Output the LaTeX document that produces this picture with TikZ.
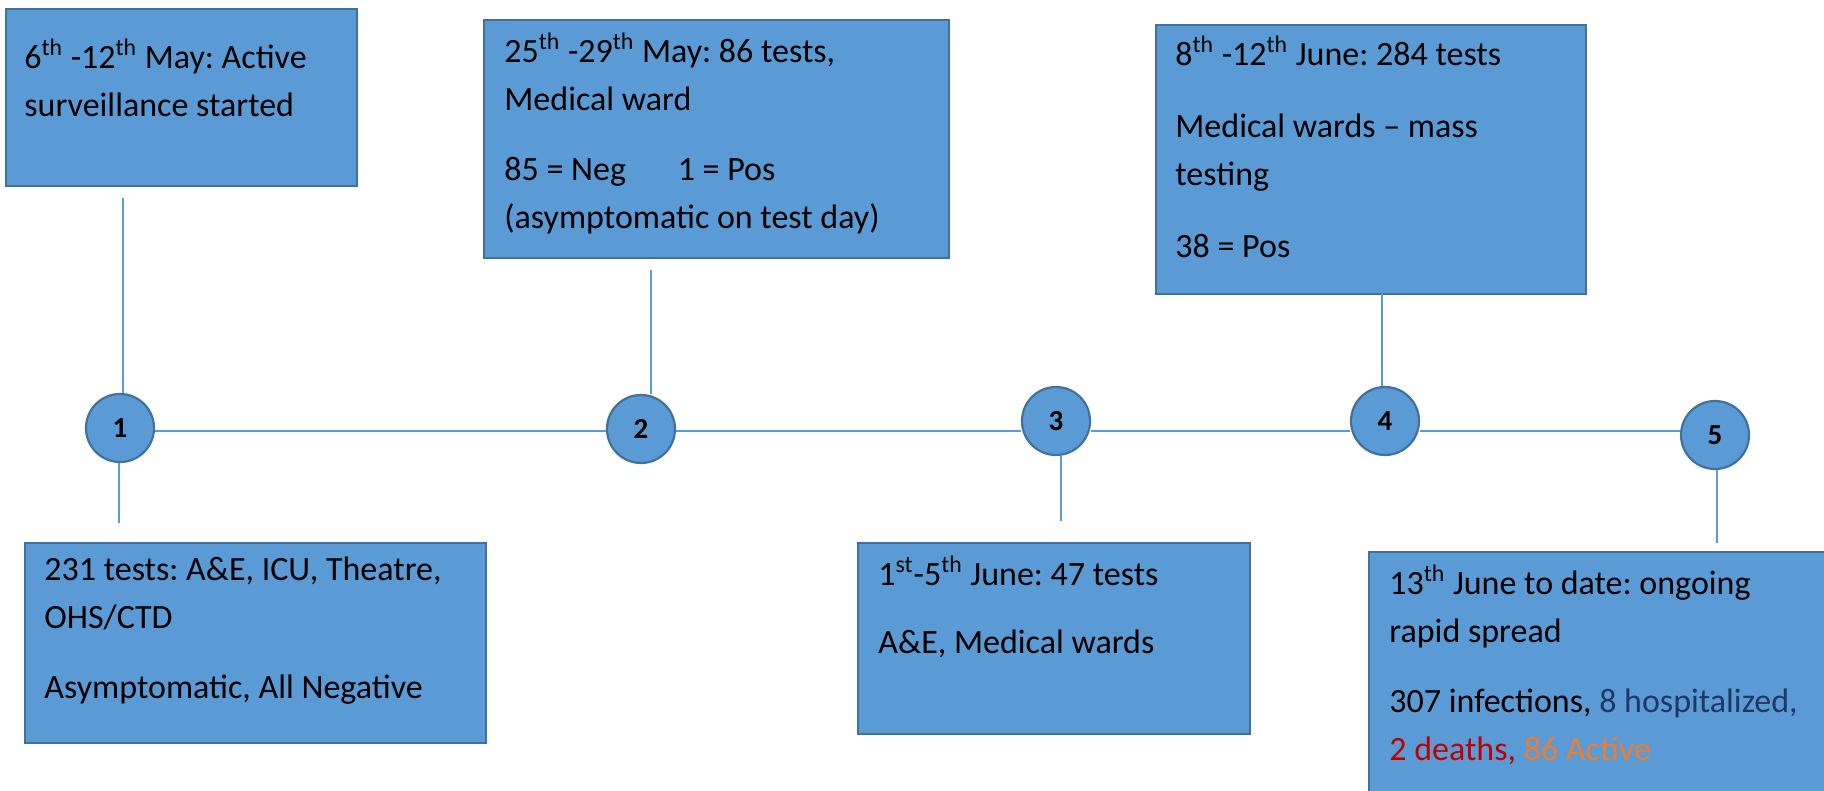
\documentclass[tikz,border=0pt]{standalone}
\usepackage{fontspec}
\setmainfont{Carlito}
\usetikzlibrary{calc}
\definecolor{azulcaja}{HTML}{5B9BD5}
\definecolor{bordecaja}{HTML}{41719C}
\definecolor{azulosc}{HTML}{1F3864}
\definecolor{rojo}{HTML}{C00000}
\definecolor{naranja}{HTML}{ED7D31}

\begin{document}
\begin{tikzpicture}[x=0.5pt,y=-0.5pt,
  caja/.style={draw=bordecaja,fill=azulcaja,line width=1pt,inner sep=0pt,anchor=north west},
  hito/.style={circle,draw=bordecaja,fill=azulcaja,line width=1.1pt,minimum size=34pt,inner sep=0pt,
    font=\fontsize{14.5}{14.5}\selectfont\bfseries},
  texto/.style={anchor=north west,align=left,inner sep=0pt,
    font=\fontsize{17}{24}\selectfont\frenchspacing,
    execute at begin node=\rule{0pt}{17pt}},
  enlace/.style={draw=azulcaja,line width=0.7pt}]
  \useasboundingbox (0,0) rectangle (1824,791);
  \clip (0,0) rectangle (1824,791);
  % cajas de arriba
  \node[caja,minimum width=175.5pt,minimum height=88.5pt] (surv) at (5,8) {};
  \node[caja,minimum width=232.5pt,minimum height=119pt] (may25) at (483,19) {};
  \node[caja,minimum width=215pt,minimum height=134.5pt] (jun8) at (1155,24) {};
  % cajas de abajo
  \node[caja,minimum width=230.5pt,minimum height=100pt] (tests) at (24,542) {};
  \node[caja,minimum width=196pt,minimum height=95.5pt] (jun1) at (857,542) {};
  \node[caja,minimum width=235pt,minimum height=130pt] (jun13) at (1368,551) {};
  % textos
  \node[texto] at ([shift={(19,31)}]surv.north west)
    {6\textsuperscript{th} -12\textsuperscript{th} May: Active\\surveillance started};
  \node[texto] at ([shift={(21,14)}]may25.north west)
    {25\textsuperscript{th} -29\textsuperscript{th} May: 86 tests,\\Medical ward\\[11pt]
     85 = Neg\hspace{22pt} 1 = Pos\\(asymptomatic on test day)};
  \node[texto] at ([shift={(20,12)}]jun8.north west)
    {8\textsuperscript{th} -12\textsuperscript{th} June: 284 tests\\[12pt]
     Medical wards -- mass\\testing\\[12pt]38 = Pos};
  \node[texto] at ([shift={(20,14)}]tests.north west)
    {231 tests: A\&E, ICU, Theatre,\\OHS/CTD\\[11pt]Asymptomatic, All Negative};
  \node[texto] at ([shift={(21,14)}]jun1.north west)
    {1\textsuperscript{st}-5\textsuperscript{th} June: 47 tests\\[10pt]A\&E, Medical wards};
  \node[texto] at ([shift={(21,14)}]jun13.north west)
    {13\textsuperscript{th} June to date: ongoing\\rapid spread\\[11pt]
     307 infections, \textcolor{azulosc}{8 hospitalized,}\\
     \textcolor{rojo}{2 deaths,} \textcolor{naranja}{86 Active}};
  % hitos
  \node[hito] (c1) at (120,428) {1};
  \node[hito] (c2) at (641,429) {2};
  \node[hito] (c3) at (1056,421) {3};
  \node[hito] (c4) at (1385,421) {4};
  \node[hito] (c5) at (1715,435) {5};
  % linea de tiempo
  \coordinate (eje) at (0,431);
  \draw[enlace] (c1.east |- eje) -- (c2.west |- eje);
  \draw[enlace] (c2.east |- eje) -- (c3.west |- eje);
  \draw[enlace] (c3.east |- eje) -- (c4.west |- eje);
  \draw[enlace] (c4.east |- eje) -- (c5.west |- eje);
  % guias verticales
  \coordinate (s1) at (123,198);
  \coordinate (i1) at (119,523);
  \coordinate (s2) at (651,270);
  \coordinate (i3) at (1061,521);
  \coordinate (s4) at (1382,293);
  \coordinate (i5) at (1717,543);
  \draw[enlace] (s1) -- (s1 |- c1.north);
  \draw[enlace] (i1 |- c1.south) -- (i1);
  \draw[enlace] (s2) -- (s2 |- c2.north);
  \draw[enlace] (i3 |- c3.south) -- (i3);
  \draw[enlace] (s4) -- (s4 |- c4.north);
  \draw[enlace] (i5 |- c5.south) -- (i5);
\end{tikzpicture}
\end{document}
